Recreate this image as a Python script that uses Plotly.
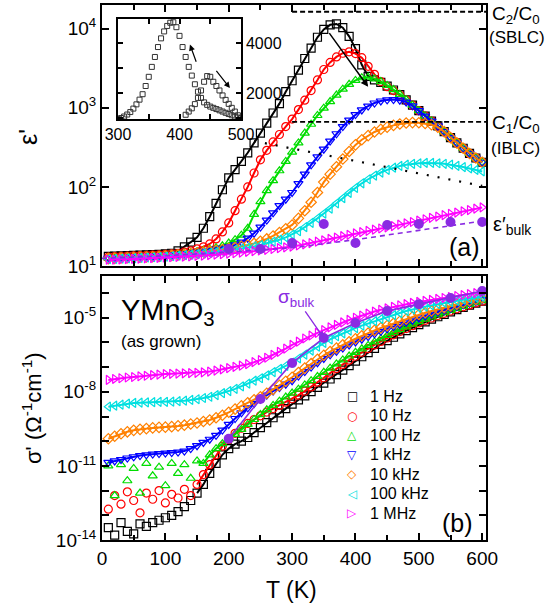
import numpy as np
import plotly.graph_objects as go

# ---------------- data ----------------
T_K = [10, 20, 30, 40, 50, 60, 70, 80, 90, 100,
       110, 120, 130, 140, 150, 160, 170, 180, 190, 200,
       210, 220, 230, 240, 250, 260, 270, 280, 290, 300,
       310, 320, 330, 340, 350, 360, 370, 380, 390, 400,
       410, 420, 430, 440, 450, 460, 470, 480, 490, 500,
       510, 520, 530, 540, 550, 560, 570, 580, 590, 600]

freq_labels = ["1 Hz", "10 Hz", "100 Hz", "1 kHz", "10 kHz", "100 kHz", "1 MHz"]

# dielectric constant eps' (panel a)
eps_1Hz = [13.2, 13.3, 13.4, 13.5, 13.6, 13.7, 13.8, 13.9, 14.0, 14.2,
           14.5, 15.5, 17.5, 20, 23, 30, 42, 62, 92, 130,
           165, 210, 270, 360, 480, 640, 860, 1130, 1600, 2200,
           3000, 4200, 5700, 7800, 9800, 11200, 11500, 10300, 8000, 5600,
           3500, 2500, 2250, 2100, 1880, 1680, 1470, 1260, 1080, 920,
           785, 680, 590, 500, 420, 360, 308, 265, 232, 205]
eps_10Hz = [13.0, 13.1, 13.2, 13.3, 13.4, 13.5, 13.6, 13.7, 13.8, 14.0,
            14.2, 14.5, 15.0, 15.5, 16.5, 17.5, 19.0, 22, 27, 35,
            50, 70, 100, 150, 220, 290, 370, 460, 580, 720,
            950, 1250, 1650, 2250, 3050, 3750, 4400, 4900, 5100, 4850,
            4300, 3350, 2650, 2150, 1850, 1650, 1450, 1250, 1080, 920,
            785, 680, 590, 500, 420, 360, 308, 265, 232, 205]
eps_100Hz = [12.8, 12.9, 13.0, 13.1, 13.2, 13.3, 13.4, 13.5, 13.6, 13.8,
             14.0, 14.2, 14.5, 14.8, 15.2, 15.7, 16.3, 17.0, 18.0, 19.5,
             21.5, 24.5, 30, 45, 65, 90, 120, 160, 210, 275,
             360, 480, 620, 800, 990, 1200, 1450, 1720, 1980, 2220,
             2400, 2440, 2320, 2150, 1920, 1700, 1480, 1270, 1080, 920,
             785, 680, 590, 500, 420, 360, 308, 265, 232, 205]
eps_1kHz = [12.6, 12.7, 12.8, 12.9, 13.0, 13.1, 13.2, 13.3, 13.4, 13.6,
            13.8, 14.0, 14.3, 14.6, 15.0, 15.4, 15.8, 16.3, 16.8, 17.5,
            18.5, 20, 22.5, 26, 31, 38, 47, 58, 70, 85,
            110, 145, 190, 240, 300, 380, 470, 580, 700, 820,
            940, 1050, 1150, 1220, 1260, 1270, 1250, 1180, 1060, 920,
            785, 680, 590, 500, 420, 360, 308, 265, 232, 205]
eps_10kHz = [12.4, 12.5, 12.6, 12.7, 12.8, 12.9, 13.0, 13.1, 13.2, 13.4,
             13.6, 13.8, 14.0, 14.3, 14.6, 15.0, 15.4, 15.8, 16.2, 16.6,
             17.1, 17.7, 18.4, 19.3, 20.5, 22, 24, 26.5, 29.5, 33,
             40, 50, 64, 85, 115, 145, 180, 225, 280, 340,
             395, 445, 495, 535, 570, 600, 625, 642, 650, 648,
             635, 610, 570, 500, 420, 360, 308, 265, 232, 205]
eps_100kHz = [12.2, 12.3, 12.4, 12.5, 12.6, 12.7, 12.8, 12.9, 13.0, 13.1,
              13.3, 13.5, 13.7, 13.9, 14.1, 14.4, 14.7, 15.0, 15.3, 15.7,
              16.1, 16.6, 17.1, 17.7, 18.4, 19.3, 20.3, 21.5, 23, 25,
              27.5, 31, 35, 40, 46, 53, 62, 72, 84, 97,
              111, 125, 139, 152, 164, 175, 184, 191, 196, 199,
              201, 201, 199, 196, 191, 185, 178, 171, 164, 157]
eps_1MHz = [12.0, 12.0, 12.1, 12.2, 12.3, 12.4, 12.5, 12.6, 12.7, 12.8,
            12.9, 13.0, 13.1, 13.2, 13.4, 13.5, 13.7, 13.9, 14.1, 14.3,
            14.5, 14.8, 15.1, 15.4, 15.7, 16.0, 16.4, 16.8, 17.2, 17.6,
            18.2, 18.8, 19.5, 20.3, 21.1, 22.0, 22.9, 23.8, 24.8, 25.8,
            26.8, 27.8, 28.8, 29.8, 30.8, 32.0, 33.3, 34.6, 36.0, 37.5,
            39.0, 40.6, 42.2, 43.9, 45.6, 47.4, 49.2, 51.0, 53.0, 55.0]

# conductivity sigma' (panel b), given as log10(sigma' / Ohm^-1 cm^-1)
sig_log_1Hz = [-13.5, -13.8, -13.3, -13.65, -13.75, -13.35, -13.45, -13.3, -13.2, -13.1,
               -13.0, -12.85, -12.65, -12.4, -12.1, -11.75, -11.3, -10.9, -10.55, -10.3,
               -10.12, -10.0, -9.85, -9.65, -9.45, -9.25, -9.05, -8.85, -8.68, -8.50,
               -8.33, -8.16, -7.99, -7.82, -7.65, -7.48, -7.30, -7.12, -6.94, -6.76,
               -6.58, -6.41, -6.24, -6.08, -5.93, -5.79, -5.65, -5.52, -5.40, -5.28,
               -5.17, -5.06, -4.96, -4.86, -4.76, -4.67, -4.58, -4.49, -4.41, -4.33]
sig_log_10Hz = [-12.75, -12.2, -12.55, -12.05, -12.4, -12.9, -12.1, -12.35, -12.0, -12.5,
                -12.15, -12.3, -11.95, -12.2, -11.75, -11.35, -10.95, -10.55, -10.2, -9.93,
                -9.68, -9.47, -9.28, -9.12, -8.97, -8.82, -8.68, -8.55, -8.42, -8.28,
                -8.13, -7.97, -7.80, -7.61, -7.43, -7.24, -7.06, -6.89, -6.72, -6.56,
                -6.40, -6.25, -6.10, -5.96, -5.82, -5.69, -5.56, -5.44, -5.32, -5.21,
                -5.11, -5.01, -4.91, -4.82, -4.73, -4.64, -4.56, -4.48, -4.40, -4.33]
sig_log_100Hz = [-11.0, -12.2, -10.95, -11.6, -11.1, -12.1, -10.9, -11.4, -11.05, -11.8,
                 -10.9, -11.3, -10.95, -11.5, -10.8, -10.9, -10.55, -10.3, -10.1, -9.92,
                 -9.72, -9.52, -9.32, -9.12, -8.92, -8.73, -8.55, -8.38, -8.21, -8.05,
                 -7.89, -7.72, -7.55, -7.38, -7.21, -7.04, -6.87, -6.71, -6.55, -6.40,
                 -6.26, -6.12, -5.98, -5.85, -5.72, -5.60, -5.48, -5.37, -5.26, -5.16,
                 -5.06, -4.97, -4.88, -4.79, -4.70, -4.62, -4.54, -4.46, -4.38, -4.31]
sig_log_1kHz = [-10.86, -10.80, -10.74, -10.68, -10.63, -10.58, -10.55, -10.52, -10.50, -10.48,
                -10.46, -10.44, -10.40, -10.30, -10.18, -10.05, -9.92, -9.76, -9.55, -9.32,
                -9.08, -8.85, -8.65, -8.47, -8.30, -8.13, -7.97, -7.83, -7.69, -7.55,
                -7.36, -7.18, -7.00, -6.82, -6.65, -6.50, -6.36, -6.23, -6.10, -5.98,
                -5.87, -5.76, -5.65, -5.55, -5.45, -5.36, -5.27, -5.18, -5.10, -5.01,
                -4.93, -4.85, -4.77, -4.70, -4.62, -4.55, -4.48, -4.41, -4.34, -4.27]
sig_log_10kHz = [-9.90, -9.80, -9.70, -9.62, -9.56, -9.52, -9.49, -9.46, -9.44, -9.43,
                 -9.41, -9.38, -9.35, -9.30, -9.26, -9.20, -9.14, -9.05, -8.95, -8.83,
                 -8.70, -8.57, -8.44, -8.32, -8.20, -8.06, -7.90, -7.74, -7.57, -7.41,
                 -7.22, -7.04, -6.86, -6.68, -6.52, -6.37, -6.23, -6.10, -5.97, -5.85,
                 -5.73, -5.62, -5.51, -5.41, -5.32, -5.23, -5.14, -5.05, -4.96, -4.87,
                 -4.80, -4.73, -4.66, -4.59, -4.52, -4.45, -4.39, -4.32, -4.26, -4.20]
sig_log_100kHz = [-8.60, -8.56, -8.52, -8.48, -8.45, -8.44, -8.43, -8.42, -8.41, -8.41,
                  -8.40, -8.38, -8.36, -8.33, -8.30, -8.25, -8.20, -8.13, -8.05, -7.97,
                  -7.88, -7.78, -7.67, -7.55, -7.45, -7.33, -7.20, -7.07, -6.95, -6.82,
                  -6.65, -6.49, -6.33, -6.17, -6.02, -5.88, -5.75, -5.63, -5.52, -5.42,
                  -5.32, -5.23, -5.14, -5.05, -4.97, -4.89, -4.81, -4.73, -4.66, -4.60,
                  -4.55, -4.50, -4.45, -4.40, -4.36, -4.32, -4.27, -4.23, -4.19, -4.15]
sig_log_1MHz = [-7.52, -7.48, -7.45, -7.42, -7.40, -7.37, -7.35, -7.32, -7.30, -7.28,
                -7.27, -7.26, -7.25, -7.24, -7.23, -7.21, -7.18, -7.14, -7.09, -7.04,
                -6.99, -6.94, -6.88, -6.80, -6.72, -6.62, -6.50, -6.38, -6.25, -6.10,
                -5.97, -5.84, -5.72, -5.61, -5.50, -5.39, -5.29, -5.19, -5.09, -5.00,
                -4.91, -4.83, -4.75, -4.68, -4.62, -4.56, -4.50, -4.45, -4.40, -4.36,
                -4.32, -4.28, -4.24, -4.20, -4.16, -4.12, -4.08, -4.04, -4.00, -3.96]

# bulk values from equivalent-circuit fits
T_bulk = [200, 250, 300, 350, 400, 450, 500, 550, 600]
eps_bulk = [16.4, 16.4, 19.5, 34, 19.5, 33, 34, 36, 36]
sig_log_bulk = [-9.9, -8.29, -6.83, -5.82, -5.21, -4.73, -4.45, -4.2, -3.92]
T_bulk_fit = [0, 100, 200, 300, 400, 450, 500, 600]
eps_bulk_fit = [12.5, 13.5, 15.0, 17.0, 21.5, 24.5, 28.0, 37.0]

# reference levels
T_levels = [300, 606]
C2_over_C0 = 16400
C1_over_C0 = 665
T_dotted = [240, 600]
eps_dotted = [380, 103]

# inset: 1 Hz eps' (linear scale), two temperature runs
T_inset_1 = [300, 305, 310, 315, 320, 325, 330, 335, 340, 345, 350, 355, 360, 365, 370,
             375, 380, 385, 390, 395, 400, 405, 410, 415, 420, 425, 430, 435, 440, 445,
             450, 455, 460, 465, 470, 475, 480, 485, 490, 495, 500]
eps_inset_1 = [950, 990, 1050, 1130, 1230, 1370, 1540, 1730, 1950, 2280, 2650, 3050, 3450, 3850, 4200,
               4480, 4700, 4830, 4850, 4650, 4300, 3850, 3450, 3050, 2700, 2350, 2050, 1800, 1620, 1520,
               1450, 1400, 1350, 1300, 1250, 1200, 1150, 1100, 1050, 1010, 980]
T_inset_2 = [410, 415, 420, 425, 430, 435, 440, 445, 450, 455, 460, 465, 470, 475, 480,
             485, 490, 495, 500]
eps_inset_2 = [1120, 1250, 1380, 1550, 1800, 2100, 2450, 2680, 2650, 2450, 2280, 2100, 1900, 1720,
               1560, 1400, 1250, 1100, 980]

# ---------------- style ----------------
colors = ["#000000", "#ff0000", "#00dd00", "#0000ff", "#ff8000", "#00e0e0", "#ff00ff"]
symbols = ["square-open", "circle-open", "triangle-up-open", "triangle-down-open",
           "diamond-open", "triangle-left-open", "triangle-right-open"]
legend_glyphs = ["□", "○", "△", "▽", "◇", "◁", "▷"]
purple = "#8a2be2"
FONT = "Liberation Sans, Arial, Helvetica, sans-serif"
noisy_until = [150, 150, 150, 0, 0, 0, 0]   # lines drawn only where data are smooth
MSIZE = 8

W, H = 556, 607
ML, MR, MT, MB = 102, 70, 5, 67
PW, PH = W - ML - MR, H - MT - MB


def pxx(px):
    return (px - ML) / PW


def pxy(py):
    return (H - MB - py) / PH


eps_series = [eps_1Hz, eps_10Hz, eps_100Hz, eps_1kHz, eps_10kHz, eps_100kHz, eps_1MHz]
sig_series = [sig_log_1Hz, sig_log_10Hz, sig_log_100Hz, sig_log_1kHz,
              sig_log_10kHz, sig_log_100kHz, sig_log_1MHz]

fig = go.Figure()

# ---- panel (a) ----
for lab, col, sym, eps in zip(freq_labels, colors, symbols, eps_series):
    fig.add_trace(go.Scatter(x=T_K, y=eps, mode="lines", line=dict(color=col, width=2),
                             xaxis="x", yaxis="y", showlegend=False, hoverinfo="skip"))
    fig.add_trace(go.Scatter(x=T_K, y=eps, mode="markers", name=lab,
                             marker=dict(symbol=sym, size=MSIZE, color=col, line=dict(width=1.2, color=col)),
                             xaxis="x", yaxis="y", showlegend=False))

fig.add_trace(go.Scatter(x=T_levels, y=[C2_over_C0, C2_over_C0], mode="lines",
                         line=dict(color="black", width=1.8, dash="5px,3px"),
                         xaxis="x", yaxis="y", showlegend=False))
fig.add_trace(go.Scatter(x=T_levels, y=[C1_over_C0, C1_over_C0], mode="lines",
                         line=dict(color="black", width=1.8, dash="5px,3px"),
                         xaxis="x", yaxis="y", showlegend=False))
fig.add_trace(go.Scatter(x=T_dotted, y=eps_dotted, mode="lines",
                         line=dict(color="black", width=2.2, dash="2px,9px"),
                         xaxis="x", yaxis="y", showlegend=False))
fig.add_trace(go.Scatter(x=T_bulk_fit, y=eps_bulk_fit, mode="lines",
                         line=dict(color=purple, width=1.6, dash="5px,4px"),
                         xaxis="x", yaxis="y", showlegend=False))
fig.add_trace(go.Scatter(x=T_bulk, y=eps_bulk, mode="markers",
                         marker=dict(symbol="circle", size=10, color=purple),
                         xaxis="x", yaxis="y", showlegend=False))

# ---- panel (b) ----
for lab, col, sym, sl, tmin in zip(freq_labels, colors, symbols, sig_series, noisy_until):
    sig = [10 ** v for v in sl]
    xs = [t for t in T_K if t >= tmin]
    ys = [s for t, s in zip(T_K, sig) if t >= tmin]
    fig.add_trace(go.Scatter(x=xs, y=ys, mode="lines", line=dict(color=col, width=2),
                             xaxis="x2", yaxis="y2", showlegend=False, hoverinfo="skip"))
    fig.add_trace(go.Scatter(x=T_K, y=sig, mode="markers", name=lab,
                             marker=dict(symbol=sym, size=MSIZE, color=col, line=dict(width=1.2, color=col)),
                             xaxis="x2", yaxis="y2", showlegend=False))

fig.add_trace(go.Scatter(x=T_bulk, y=[10 ** v for v in sig_log_bulk], mode="lines+markers",
                         line=dict(color=purple, width=1.6),
                         marker=dict(symbol="circle", size=10, color=purple),
                         xaxis="x2", yaxis="y2", showlegend=False))

# ---- inset ----
fig.add_trace(go.Scatter(x=T_inset_1, y=eps_inset_1, mode="markers",
                         marker=dict(symbol="square-open", size=5, color="#333333", line=dict(width=1)),
                         xaxis="x3", yaxis="y3", showlegend=False))
fig.add_trace(go.Scatter(x=T_inset_2, y=eps_inset_2, mode="markers",
                         marker=dict(symbol="square-open", size=5, color="#333333", line=dict(width=1)),
                         xaxis="x3", yaxis="y3", showlegend=False))

# ---------------- axes ----------------
TICKFONT = dict(family=FONT, size=19, color="black")
axis_common = dict(showline=True, linewidth=2, linecolor="black", mirror="ticks",
                   ticks="inside", ticklen=7, tickwidth=1.5, tickcolor="black",
                   showgrid=False, zeroline=False, tickfont=TICKFONT)
minor_x = dict(tickvals=[50, 150, 250, 350, 450, 550], ticks="inside", ticklen=5,
               tickwidth=1.5, tickcolor="black", showgrid=False)

fig.update_layout(
    xaxis=dict(axis_common, domain=[0, 1], anchor="y", range=[0, 606],
               tickvals=[0, 100, 200, 300, 400, 500, 600], showticklabels=False, minor=minor_x),
    yaxis=dict(axis_common, domain=[pxy(266), 1], anchor="x", type="log", range=[1, 4.30],
               tickvals=[10, 100, 1000, 10000],
               ticktext=["10<sup>1</sup>", "10<sup>2</sup>", "10<sup>3</sup>", "10<sup>4</sup>"]),
    xaxis2=dict(axis_common, domain=[0, 1], anchor="y2", range=[0, 606],
                tickvals=[0, 100, 200, 300, 400, 500, 600], minor=minor_x),
    yaxis2=dict(axis_common, domain=[0, pxy(276)], anchor="x2", type="log", range=[-14, -3.31],
                tickvals=[1e-14, 1e-11, 1e-8, 1e-5],
                ticktext=["10<sup>-14</sup>", "10<sup>-11</sup>", "10<sup>-8</sup>", "10<sup>-5</sup>"],
                minor=dict(tickvals=[1e-13, 1e-12, 1e-10, 1e-9, 1e-7, 1e-6, 1e-4], ticks="inside",
                           ticklen=7, tickwidth=1.5, tickcolor="black", showgrid=False)),
    xaxis3=dict(axis_common, domain=[pxx(118), pxx(241)], anchor="y3", range=[300, 500],
                tickvals=[300, 400, 500], ticklen=5, linewidth=1.5,
                tickfont=dict(family=FONT, size=16, color="black"),
                minor=dict(tickvals=[350, 450], ticks="inside", ticklen=5, tickwidth=1.5,
                           tickcolor="black", showgrid=False)),
    yaxis3=dict(axis_common, domain=[pxy(119), pxy(19)], anchor="x3", range=[950, 4980],
                side="right", tickvals=[2000, 4000], ticklen=5, linewidth=1.5,
                tickfont=dict(family=FONT, size=16, color="black"),
                minor=dict(tickvals=[1000, 3000], ticks="inside", ticklen=5, tickwidth=1.5,
                           tickcolor="black", showgrid=False)),
    width=W, height=H,
    margin=dict(l=ML, r=MR, t=MT, b=MB, autoexpand=False),
    paper_bgcolor="white", plot_bgcolor="white",
    font=dict(family=FONT, size=15, color="black"),
    showlegend=False,
)

# ---------------- annotations ----------------
ann = []


def text(px, py, s, size=17, color="black", xanchor="center", angle=0, family=FONT):
    ann.append(dict(x=pxx(px), y=pxy(py), xref="paper", yref="paper", text=s, showarrow=False,
                    xanchor=xanchor, yanchor="middle", textangle=angle,
                    font=dict(family=family, size=size, color=color)))


text(28, 137, "ε'", size=25, angle=-90)
text(32, 408, "σ' (Ω<sup>-1</sup>cm<sup>-1</sup>)", size=22, angle=-90)
text(291, 590, "T (K)", size=23)
text(490, 15, "C<sub>2</sub>/C<sub>0</sub>", size=19, xanchor="left")
text(487, 38, "(SBLC)", size=17, xanchor="left")
text(490, 124, "C<sub>1</sub>/C<sub>0</sub>", size=19, xanchor="left")
text(489, 148, "(IBLC)", size=17, xanchor="left")
text(491, 226, "ε′<sub>bulk</sub>", size=20, xanchor="left")
text(464, 247, "(a)", size=25)
text(457, 523, "(b)", size=25)
text(119, 312, "YMnO<sub>3</sub>", size=29, xanchor="left")
text(119, 341, "(as grown)", size=17, xanchor="left")

# legend drawn as text rows
for i, (g, col, lab) in enumerate(zip(legend_glyphs, colors, freq_labels)):
    yrow = 396 + i * 19.5
    text(352, yrow, g, size=12, color=col, family="DejaVu Sans")
    text(368, yrow, lab, size=16, xanchor="left")

# arrow along the 1 Hz peak (panel a)
arrow_a_tail = (357, 9200)
arrow_a_head = (420, 1840)
ann.append(dict(x=arrow_a_head[0], y=np.log10(arrow_a_head[1]), xref="x", yref="y",
                ax=arrow_a_tail[0], ay=np.log10(arrow_a_tail[1]), axref="x", ayref="y",
                showarrow=True, arrowhead=2, arrowsize=1, arrowwidth=1.5, arrowcolor="black", text=""))
# inset arrows
ann.append(dict(x=417, y=3950, xref="x3", yref="y3", ax=428, ay=3200, axref="x3", ayref="y3",
                showarrow=True, arrowhead=2, arrowsize=1, arrowwidth=1.2, arrowcolor="black", text=""))
ann.append(dict(x=482, y=2200, xref="x3", yref="y3", ax=458, ay=2950, axref="x3", ayref="y3",
                showarrow=True, arrowhead=2, arrowsize=1, arrowwidth=1.2, arrowcolor="black", text=""))
# sigma_bulk label with arrow
ann.append(dict(x=T_bulk[3], y=sig_log_bulk[3], xref="x2", yref="y2", ax=-28, ay=-40,
                showarrow=True, arrowhead=2, arrowsize=1, arrowwidth=1.3, arrowcolor=purple,
                text="σ<sub>bulk</sub>", font=dict(family=FONT, size=19, color=purple)))

fig.update_layout(annotations=ann)

fig.write_html("out.html", config={"displayModeBar": False},
               post_script="document.body.style.margin='0px';")
